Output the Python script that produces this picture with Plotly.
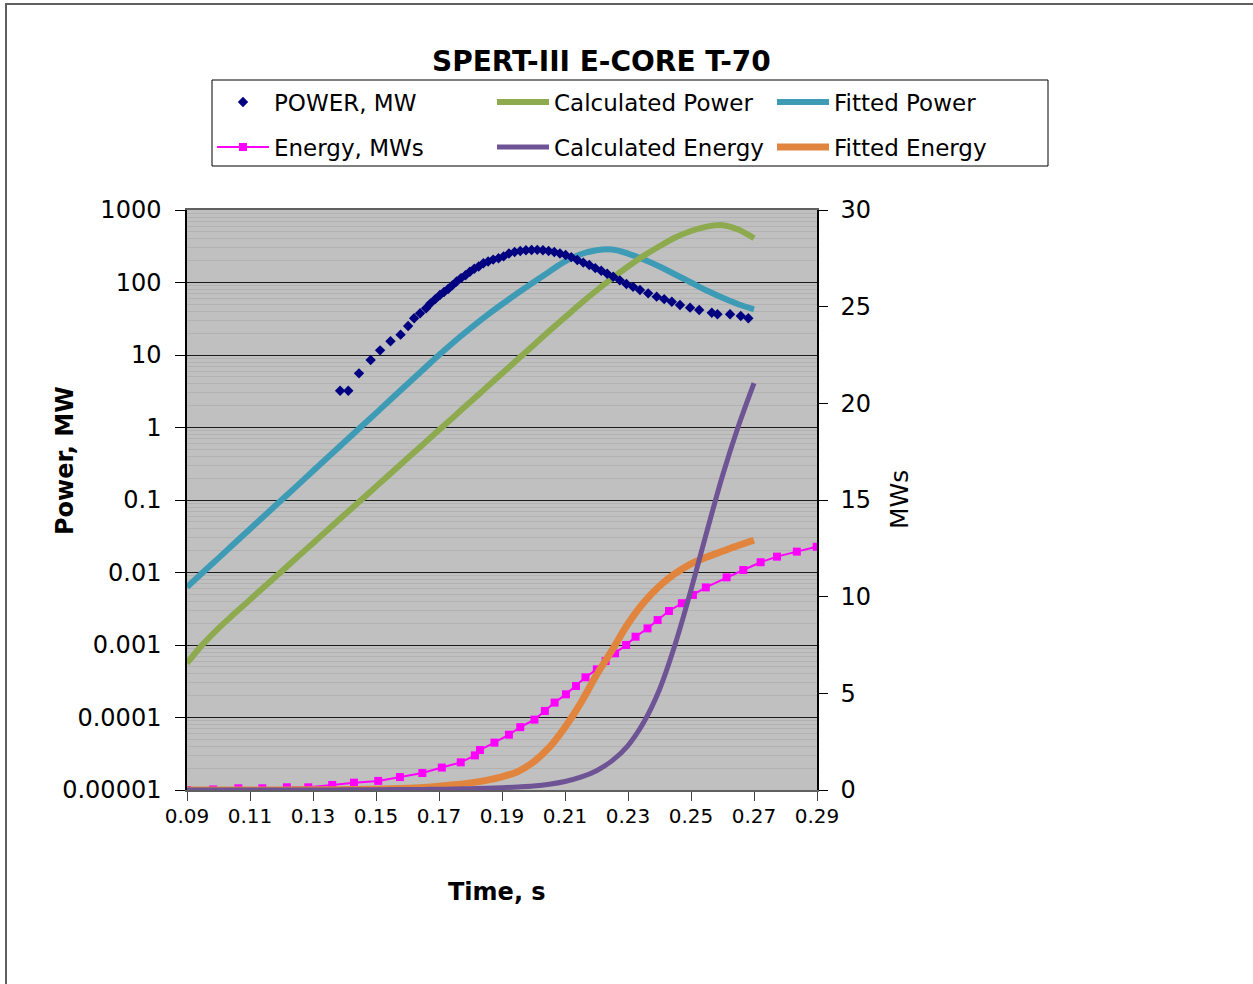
import plotly.graph_objects as go

# ---------------- data ----------------
t_model = [0.090, 0.095, 0.100, 0.105, 0.110, 0.115, 0.120, 0.125, 0.130, 0.135,
           0.140, 0.145, 0.150, 0.155, 0.160, 0.165, 0.170, 0.175, 0.180, 0.185,
           0.190, 0.195, 0.200, 0.205, 0.210, 0.215, 0.220, 0.225, 0.230, 0.235,
           0.240, 0.245, 0.250, 0.255, 0.260, 0.265, 0.270]

calc_power = [0.000562, 0.00102, 0.0017, 0.00269, 0.00422, 0.00661, 0.01035, 0.0162, 0.0254, 0.0398,
              0.0624, 0.0977, 0.153, 0.240, 0.376, 0.589, 0.923, 1.445, 2.265, 3.548,
              5.559, 8.71, 13.65, 21.38, 33.1, 51.3, 77.6, 114.8, 166, 234,
              316, 417, 513, 589, 617, 537, 407]

fitted_power = [0.0063, 0.0100, 0.0158, 0.0251, 0.0398, 0.0631, 0.100, 0.158, 0.251, 0.398,
                0.631, 1.00, 1.58, 2.51, 3.98, 6.31, 10.0, 15.5, 23.4, 34.7,
                50.1, 71.6, 101, 141, 195, 245, 279, 285, 251, 207,
                166, 129, 100, 77.6, 61.7, 50.1, 42.7]

calc_energy = [0.0, 0.0, 0.0, 0.0, 0.0, 0.0, 0.0, 0.0, 0.0, 0.0,
               0.01, 0.01, 0.01, 0.02, 0.02, 0.03, 0.04, 0.05, 0.07, 0.09,
               0.12, 0.16, 0.21, 0.30, 0.44, 0.66, 1.00, 1.52, 2.30, 3.50,
               5.20, 7.55, 10.35, 13.35, 16.25, 18.8, 21.05]

fitted_energy = [0.0, 0.0, 0.0, 0.0, 0.0, 0.0, 0.0, 0.01, 0.01, 0.01,
                 0.02, 0.03, 0.04, 0.06, 0.09, 0.13, 0.19, 0.27, 0.37, 0.50,
                 0.68, 0.95, 1.45, 2.20, 3.25, 4.50, 5.95, 7.25, 8.60, 9.70,
                 10.55, 11.2, 11.7, 12.05, 12.35, 12.65, 12.92]

t_power_meas = [0.1386, 0.1412, 0.1446, 0.1483, 0.1513, 0.1546, 0.1578, 0.1602, 0.1621, 0.1640,
                0.1659, 0.1673, 0.1688, 0.1703, 0.1716, 0.1729, 0.1742, 0.1756, 0.1770, 0.1784,
                0.1798, 0.1812, 0.1826, 0.1841, 0.1856, 0.1872, 0.1889, 0.1905, 0.1922, 0.1940,
                0.1958, 0.1976, 0.1994, 0.2012, 0.2030, 0.2048, 0.2066, 0.2084, 0.2102, 0.2120,
                0.2139, 0.2158, 0.2177, 0.2196, 0.2215, 0.2234, 0.2253, 0.2274, 0.2295, 0.2316,
                0.2338, 0.2364, 0.2391, 0.2415, 0.2439, 0.2465, 0.2497, 0.2526, 0.2566, 0.2584,
                0.2624, 0.2658, 0.2682]

power_meas = [3.22, 3.22, 5.58, 8.53, 11.6, 15.5, 19.1, 25.1, 32.1, 37.6,
              44.1, 51.6, 58.9, 67.3, 74.1, 81.3, 91.2, 103, 115, 126,
              141, 155, 166, 184, 195, 207, 216, 229, 251, 263,
              272, 279, 281, 282, 279, 272, 263, 251, 240, 224,
              204, 188, 174, 158, 145, 132, 120, 107, 95.5, 87.1,
              78.9, 70.8, 63.8, 58.9, 54.3, 49.0, 45.0, 41.7, 38.3, 36.4,
              36.4, 34.5, 32.1]

t_energy_meas = [0.0900, 0.0983, 0.1063, 0.1139, 0.1217, 0.1285, 0.1361, 0.1430, 0.1507, 0.1576,
                 0.1647, 0.1709, 0.1769, 0.1814, 0.1830, 0.1876, 0.1922, 0.1958, 0.2003, 0.2036,
                 0.2067, 0.2103, 0.2135, 0.2165, 0.2201, 0.2229, 0.2259, 0.2294, 0.2324, 0.2362,
                 0.2394, 0.2430, 0.2471, 0.2506, 0.2547, 0.2613, 0.2666, 0.2721, 0.2773, 0.2836,
                 0.2899]

energy_meas = [0.0, 0.03, 0.09, 0.09, 0.14, 0.14, 0.26, 0.38, 0.47, 0.67,
               0.88, 1.16, 1.43, 1.79, 2.07, 2.45, 2.86, 3.25, 3.64, 4.09,
               4.52, 4.95, 5.38, 5.83, 6.24, 6.67, 7.07, 7.50, 7.93, 8.36,
               8.79, 9.26, 9.66, 10.09, 10.48, 11.0, 11.38, 11.78, 12.07, 12.33,
               12.58]

x_tickvals = [0.09, 0.11, 0.13, 0.15, 0.17, 0.19, 0.21, 0.23, 0.25, 0.27, 0.29]
x_ticktext = ["0.09", "0.11", "0.13", "0.15", "0.17", "0.19", "0.21", "0.23", "0.25", "0.27", "0.29"]
y_tickvals = [0.00001, 0.0001, 0.001, 0.01, 0.1, 1, 10, 100, 1000]
y_ticktext = ["0.00001", "0.0001", "0.001", "0.01", "0.1", "1", "10", "100", "1000"]
y2_tickvals = [0, 5, 10, 15, 20, 25, 30]

# ---------------- styling ----------------
FONT = "DejaVu Sans"
NAVY = "#000080"
GREEN = "#8DAA4E"
TEAL = "#3D9BB5"
MAGENTA = "#FF00FF"
PURPLE = "#6E5494"
ORANGE = "#E1843D"

fig = go.Figure()

fig.add_trace(go.Scatter(x=t_model, y=fitted_power, name="Fitted Power", mode="lines",
                         line=dict(color=TEAL, width=6, shape="spline"),
                         legend="legend", legendrank=3, yaxis="y"))
fig.add_trace(go.Scatter(x=t_model, y=calc_power, name="Calculated Power", mode="lines",
                         line=dict(color=GREEN, width=6, shape="spline"),
                         legend="legend", legendrank=2, yaxis="y"))
fig.add_trace(go.Scatter(x=t_power_meas, y=power_meas, name="POWER, MW", mode="markers",
                         marker=dict(symbol="diamond", color=NAVY, size=8),
                         legend="legend", legendrank=1, yaxis="y"))

fig.add_trace(go.Scatter(x=t_energy_meas, y=energy_meas, name="Energy, MWs", mode="lines+markers",
                         line=dict(color=MAGENTA, width=2),
                         marker=dict(symbol="square", color=MAGENTA, size=8),
                         legend="legend2", legendrank=1, yaxis="y2"))
fig.add_trace(go.Scatter(x=t_model, y=fitted_energy, name="Fitted Energy", mode="lines",
                         line=dict(color=ORANGE, width=7, shape="spline"),
                         legend="legend2", legendrank=3, yaxis="y2"))
fig.add_trace(go.Scatter(x=t_model, y=calc_energy, name="Calculated Energy", mode="lines",
                         line=dict(color=PURPLE, width=5, shape="spline"),
                         legend="legend2", legendrank=2, yaxis="y2"))

W, H = 1253, 984
L, R, T, B = 187, 436, 210, 194
PW, PH = W - L - R, H - T - B


def px(xp):
    return (xp - L) / PW


def py(yp):
    return (H - B - yp) / PH


legend_common = dict(orientation="h", xanchor="right", x=px(1052), yanchor="top",
                     entrywidth=213, entrywidthmode="pixels", itemwidth=52,
                     font=dict(family=FONT, size=23, color="black"),
                     bgcolor="rgba(0,0,0,0)", borderwidth=0, traceorder="normal")

fig.update_layout(
    width=W, height=H,
    margin=dict(l=L, r=R, t=T, b=B, autoexpand=False),
    paper_bgcolor="white",
    plot_bgcolor="#C0C0C0",
    font=dict(family=FONT, color="black"),
    showlegend=True,
    legend=dict(legend_common, y=py(80.5)),
    legend2=dict(legend_common, y=py(125.5)),
    xaxis=dict(range=[0.09, 0.29], tickvals=x_tickvals, ticktext=x_ticktext,
               tickfont=dict(size=20, family=FONT), ticks="outside", ticklen=9,
               tickcolor="#404040", showgrid=False, zeroline=False,
               showline=True, linecolor="#606060", linewidth=2, mirror=True,
               ticklabelstandoff=-2),
    yaxis=dict(type="log", range=[-5, 3], tickvals=y_tickvals, ticktext=y_ticktext,
               tickfont=dict(size=24, family=FONT), ticks="outside", ticklen=10,
               tickcolor="black", showgrid=True, gridcolor="#1a1a1a", gridwidth=1,
               zeroline=False, showline=True, linecolor="black", linewidth=1.5,
               ticklabelstandoff=9,
               minor=dict(dtick="D1", showgrid=True, gridcolor="#b2b2b2", gridwidth=1, ticks="")),
    yaxis2=dict(overlaying="y", side="right", range=[0, 30], tickvals=y2_tickvals,
                tickfont=dict(size=24, family=FONT), ticks="outside", ticklen=9,
                tickcolor="black", showgrid=False, zeroline=False,
                showline=True, linecolor="black", linewidth=1.5, ticklabelstandoff=8),
    shapes=[
        dict(type="rect", xref="paper", yref="paper", x0=px(212), x1=px(1048),
             y0=py(166), y1=py(80), line=dict(color="black", width=1),
             fillcolor="rgba(0,0,0,0)", layer="above"),
        dict(type="rect", xref="paper", yref="paper", x0=px(6), x1=px(1400),
             y0=py(1100), y1=py(4), line=dict(color="#606060", width=2),
             fillcolor="rgba(0,0,0,0)", layer="below"),
    ],
    annotations=[
        dict(text="<b>SPERT-III E-CORE T-70</b>", xref="paper", yref="paper",
             x=px(601), y=py(61), xanchor="center", yanchor="middle", showarrow=False,
             font=dict(family=FONT, size=28, color="black")),
        dict(text="<b>Power, MW</b>", xref="paper", yref="paper",
             x=px(65), y=py(461), xanchor="center", yanchor="middle", showarrow=False,
             textangle=-90, font=dict(family=FONT, size=24, color="black")),
        dict(text="<b>Time, s</b>", xref="paper", yref="paper",
             x=px(497), y=py(892), xanchor="center", yanchor="middle", showarrow=False,
             font=dict(family=FONT, size=24, color="black")),
        dict(text="MWs", xref="paper", yref="paper",
             x=px(899), y=py(500), xanchor="center", yanchor="middle", showarrow=False,
             textangle=-90, font=dict(family=FONT, size=25, color="black")),
    ],
)

fig.write_html("out.html")
